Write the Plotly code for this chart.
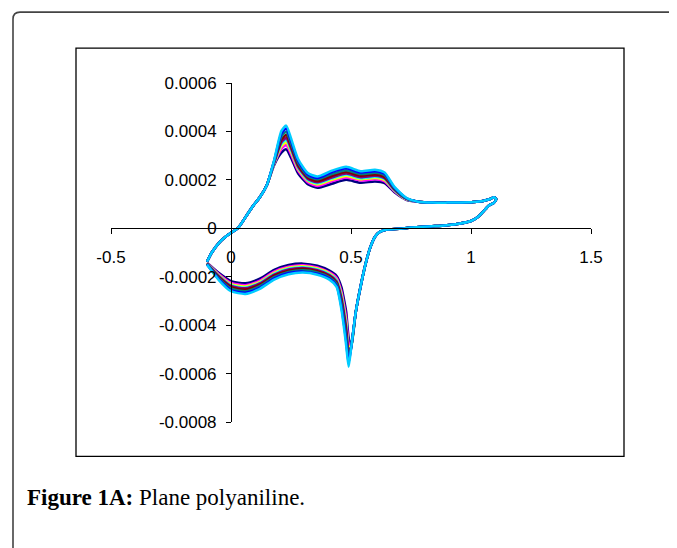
import plotly.graph_objects as go

# ---------------- data (currents in microamps, potentials in V) ----------------
series_names = ["Cycle 1", "Cycle 2", "Cycle 3", "Cycle 4", "Cycle 5",
                "Cycle 6", "Cycle 7", "Cycle 8", "Cycle 9"]
series_colors = ["#000080", "#FF00FF", "#FFFF00", "#00FFFF", "#800080",
                 "#800000", "#008080", "#0000FF", "#00CCFF"]

# common start of anodic scan (all cycles overlap)
E_start = [-0.10, -0.08, -0.05, -0.02, 0.00, 0.03, 0.06, 0.09, 0.12, 0.15]
I_start = [-138, -100, -60, -33, -19, 2, 45, 90, 128, 180]

# anodic scan region where cycles differ
E_fwd = [0.18, 0.21, 0.23, 0.25, 0.28, 0.32, 0.36, 0.42, 0.48, 0.54, 0.60, 0.64, 0.68, 0.73]
I_fwd_1 = [262, 312, 326, 292, 226, 182, 167, 184, 200, 188, 193, 186, 150, 118]
I_fwd_2 = [266, 328, 344, 306, 237, 190, 175, 194, 210, 197, 202, 194, 154, 119]
I_fwd_3 = [268, 339, 355, 316, 244, 196, 181, 200, 216, 202, 208, 199, 157, 120]
I_fwd_4 = [270, 348, 365, 324, 250, 200, 186, 206, 222, 207, 213, 204, 159, 121]
I_fwd_5 = [272, 355, 373, 330, 254, 204, 190, 210, 226, 211, 217, 207, 161, 122]
I_fwd_6 = [274, 366, 385, 340, 261, 210, 195, 216, 232, 217, 222, 212, 163, 123]
I_fwd_7 = [277, 379, 399, 351, 270, 216, 202, 224, 240, 224, 229, 219, 166, 124]
I_fwd_8 = [280, 391, 412, 362, 278, 222, 208, 232, 248, 230, 236, 225, 169, 125]
I_fwd_9 = [282, 402, 424, 372, 285, 228, 214, 238, 254, 236, 242, 230, 172, 126]

# common plateau, switching point and start of cathodic scan
E_mid = [0.78, 0.84, 0.90, 0.96, 1.01, 1.05, 1.08, 1.095, 1.105, 1.095, 1.075,
         1.05, 1.03, 1.00, 0.95, 0.90, 0.85, 0.80, 0.75, 0.70, 0.65, 0.62,
         0.60, 0.58, 0.56, 0.54, 0.52]
I_mid = [110, 106, 106, 107, 109, 113, 121, 128, 120, 105, 94,
         68, 48, 30, 19, 13, 9, 6, 3, -2, -5, -15,
         -35, -80, -150, -240, -345]

# cathodic scan region where cycles differ
E_rev = [0.50, 0.49, 0.48, 0.47, 0.46, 0.44, 0.41, 0.36, 0.30, 0.24, 0.18, 0.12, 0.06, 0.00, -0.05, -0.10]
I_rev_1 = [-487, -450, -345, -290, -243, -197, -175, -155, -146, -152, -172, -208, -227, -218, -185, -142]
I_rev_2 = [-489, -472, -370, -311, -260, -205, -182, -162, -153, -159, -179, -216, -235, -226, -190, -143]
I_rev_3 = [-491, -487, -387, -325, -271, -211, -186, -166, -157, -163, -184, -221, -240, -231, -194, -144]
I_rev_4 = [-492, -499, -401, -336, -280, -215, -190, -170, -161, -167, -188, -225, -245, -235, -197, -145]
I_rev_5 = [-493, -509, -412, -345, -287, -219, -193, -173, -164, -170, -191, -228, -248, -238, -199, -146]
I_rev_6 = [-495, -523, -429, -359, -298, -224, -197, -177, -168, -175, -196, -233, -253, -243, -203, -147]
I_rev_7 = [-497, -540, -449, -375, -311, -230, -202, -182, -173, -180, -202, -239, -260, -249, -207, -148]
I_rev_8 = [-498, -557, -468, -391, -324, -237, -208, -188, -179, -185, -207, -245, -266, -255, -211, -149]
I_rev_9 = [-500, -572, -485, -405, -335, -242, -212, -192, -183, -190, -212, -250, -271, -260, -215, -150]

x_tickvals = [-0.5, 0, 0.5, 1, 1.5]
x_ticktext = ["-0.5", "0", "0.5", "1", "1.5"]
y_tickvals = [0.0006, 0.0004, 0.0002, 0, -0.0002, -0.0004, -0.0006, -0.0008]
y_ticktext = ["0.0006", "0.0004", "0.0002", "0", "-0.0002", "-0.0004", "-0.0006", "-0.0008"]

caption_bold = "Figure 1A:"
caption_text = "Plane polyaniline."

# ---------------- figure ----------------
fwd_sets = [I_fwd_1, I_fwd_2, I_fwd_3, I_fwd_4, I_fwd_5, I_fwd_6, I_fwd_7, I_fwd_8, I_fwd_9]
rev_sets = [I_rev_1, I_rev_2, I_rev_3, I_rev_4, I_rev_5, I_rev_6, I_rev_7, I_rev_8, I_rev_9]

fig = go.Figure()
for name, color, f, r in zip(series_names, series_colors, fwd_sets, rev_sets):
    E = E_start + E_fwd + E_mid + E_rev
    I = [v * 1e-6 for v in (I_start + f + I_mid + r)]
    fig.add_trace(go.Scatter(x=E, y=I, mode="lines", name=name,
                             line=dict(color=color, width=2.5, shape="spline", smoothing=0.6),
                             showlegend=False))

OFF = 8  # page body margin of the html page
W, H = 677 - OFF, 548 - OFF
x_range = [-0.5, 1.5]
y_range = [-0.0008, 0.0006]
L, T = 111 - OFF, 83 - OFF
pw, ph = 480, 339.5
R, B = W - L - pw, H - T - ph

def px_x(p):
    return (p - OFF - L) / pw

def px_y(p):
    return (T + ph - (p - OFF)) / ph

tick_font = dict(family="Liberation Sans, Arial, sans-serif", size=17, color="black")

fig.update_layout(
    width=W, height=H,
    margin=dict(l=L, r=R, t=T, b=B, pad=0),
    paper_bgcolor="white", plot_bgcolor="white",
    xaxis=dict(range=x_range, anchor="free",
               position=(0 - y_range[0]) / (y_range[1] - y_range[0]),
               showgrid=False, zeroline=False, showline=True, linecolor="black", linewidth=1,
               ticks="outside", ticklen=5, tickwidth=1, tickcolor="black",
               ticklabelstandoff=8,
               tickvals=x_tickvals, ticktext=x_ticktext, tickfont=tick_font),
    yaxis=dict(range=y_range, anchor="free",
               position=(0 - x_range[0]) / (x_range[1] - x_range[0]),
               showgrid=False, zeroline=False, showline=True, linecolor="black", linewidth=1,
               ticks="outside", ticklen=5, tickwidth=1, tickcolor="black",
               ticklabelstandoff=6,
               tickvals=y_tickvals, ticktext=y_ticktext, tickfont=tick_font),
)

# inner chart frame
fig.add_shape(type="rect", xref="paper", yref="paper",
              x0=px_x(76), x1=px_x(624), y0=px_y(457), y1=px_y(48),
              line=dict(color="black", width=1.3), fillcolor="rgba(0,0,0,0)", layer="below")

# outer rounded page box (open to the right and bottom)
rc = 7
path = (f"M {px_x(13)},{px_y(560)} L {px_x(13)},{px_y(12 + rc)} "
        f"Q {px_x(13)},{px_y(12)} {px_x(13 + rc)},{px_y(12)} L {px_x(700)},{px_y(12)}")
fig.add_shape(type="path", xref="paper", yref="paper", path=path,
              line=dict(color="#444444", width=1.6))

fig.add_annotation(xref="paper", yref="paper", x=px_x(25), y=px_y(513),
                   xanchor="left", yanchor="bottom", showarrow=False,
                   text=f"<b>{caption_bold}</b> {caption_text}",
                   font=dict(family="Liberation Serif, Times New Roman, serif", size=23, color="black"))

fig.write_html("out.html")
